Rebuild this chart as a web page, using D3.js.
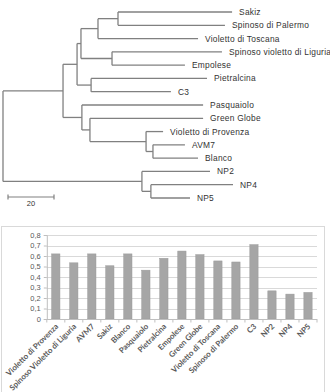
<!DOCTYPE html>
<html>
<head>
<meta charset="utf-8">
<script src="https://cdn.jsdelivr.net/npm/d3@7"></script>
<style>
  body { margin: 0; background: #fff; }
  svg { display: block; }
</style>
</head>
<body>
<div id="chart"></div>
<script>
// tree: [id, parent, branch length]
const treeNodes = [
  ['root', '', 0],
  ['A', 'root', 26.1],
  ['F', 'A', 6.1],
  ['D', 'F', 1.7],
  ['C', 'D', 7.4],
  ['SS', 'C', 8.7],
  ['Sakiz', 'SS', 49.6],
  ['Spinoso di Palermo', 'SS', 46.5],
  ['Violetto di Toscana', 'C', 43.5],
  ['E', 'D', 13.5],
  ['Spinoso violetto di Liguria', 'E', 47.8],
  ['Empolese', 'E', 31.7],
  ['G', 'F', 6.1],
  ['Pietralcina', 'G', 50.4],
  ['C3', 'G', 34.7],
  ['H', 'A', 8.2],
  ['Pasquaiolo', 'H', 52.7],
  ['I', 'H', 3.5],
  ['Green Globe', 'I', 49.2],
  ['J', 'I', 24.4],
  ['Violetto di Provenza', 'J', 7.4],
  ['K', 'J', 3.0],
  ['AVM7', 'K', 13.9],
  ['Blanco', 'K', 19.6],
  ['L', 'root', 60.4],
  ['NP2', 'L', 29.6],
  ['M', 'L', 3.9],
  ['NP4', 'M', 35.7],
  ['NP5', 'M', 17.0]
]
const scaleBarValue = 20

// bar chart
const categories = ['Violetto di Provenza', 'Spinoso Violetto di Liguria', 'AVM7', 'Sakiz', 'Blanco',
  'Pasquaiolo', 'Pietralcina', 'Empolese', 'Green Globe', 'Violetto di Toscana', 'Spinoso di Palermo',
  'C3', 'NP2', 'NP4', 'NP5']
const values = [0.62, 0.535, 0.62, 0.507, 0.62, 0.465, 0.578, 0.647, 0.613, 0.553, 0.543, 0.708, 0.268, 0.237, 0.253]
const yTicks = [0, 0.1, 0.2, 0.3, 0.4, 0.5, 0.6, 0.7, 0.8]

const width = 330, height = 392

const svg = d3.select('#chart').append('svg')
  .attr('width', width)
  .attr('height', height)

// ---- dendrogram ----
const root = d3.stratify()
  .id(d => d[0])
  .parentId(d => d[1] || null)(treeNodes)

root.eachBefore(n => { n.dist = n.parent ? n.parent.dist + n.data[2] : 0 })

const leaves = root.leaves()
const xTree = d3.scaleLinear().domain([0, 100]).range([3, 233])
const yLeaf = d3.scaleLinear().domain([0, leaves.length - 1]).range([12, 198])
leaves.forEach((l, i) => { l.py = yLeaf(i) })
root.eachAfter(n => {
  if (n.children) n.py = (n.children[0].py + n.children[n.children.length - 1].py) / 2
})

const tree = svg.append('g')
  .attr('fill', 'none')
  .attr('stroke', '#808080')
  .attr('stroke-width', 1.3)

// horizontal branches
tree.selectAll('line.h')
  .data(root.descendants().filter(n => n.parent))
  .enter()
  .append('line')
  .attr('x1', n => xTree(n.parent.dist))
  .attr('x2', n => xTree(n.dist))
  .attr('y1', n => n.py)
  .attr('y2', n => n.py)

// vertical connectors
tree.selectAll('line.v')
  .data(root.descendants().filter(n => n.children))
  .enter()
  .append('line')
  .attr('x1', n => xTree(n.dist))
  .attr('x2', n => xTree(n.dist))
  .attr('y1', n => n.children[0].py)
  .attr('y2', n => n.children[n.children.length - 1].py)

svg.append('g')
  .selectAll('text')
  .data(leaves)
  .enter()
  .append('text')
  .attr('x', n => xTree(n.dist) + 7)
  .attr('y', n => n.py)
  .attr('dy', '0.35em')
  .attr('font-family', 'Liberation Sans, Arial, sans-serif')
  .attr('font-size', 8.4)
  .attr('letter-spacing', 0.25)
  .attr('fill', '#333')
  .text(n => n.id)

// scale bar
const sb = svg.append('g').attr('stroke', '#808080').attr('stroke-width', 1.2)
const sbX0 = 8, sbY = 197
sb.append('line')
  .attr('x1', sbX0).attr('x2', sbX0 + xTree(scaleBarValue) - xTree(0))
  .attr('y1', sbY).attr('y2', sbY)
;[0, scaleBarValue].forEach(v => {
  sb.append('line')
    .attr('x1', sbX0 + xTree(v) - xTree(0)).attr('x2', sbX0 + xTree(v) - xTree(0))
    .attr('y1', sbY - 2.5).attr('y2', sbY + 2.5)
})
svg.append('text')
  .attr('x', sbX0 + (xTree(scaleBarValue) - xTree(0)) / 2)
  .attr('y', sbY + 9)
  .attr('text-anchor', 'middle')
  .attr('font-family', 'Liberation Sans, Arial, sans-serif')
  .attr('font-size', 7.5)
  .attr('fill', '#333')
  .text(scaleBarValue)

// ---- bar chart ----
svg.append('rect')
  .attr('x', 1.5).attr('y', 226.5)
  .attr('width', 323).attr('height', 180)
  .attr('fill', 'none')
  .attr('stroke', '#d9d9d9')

const x = d3.scaleBand()
  .domain(categories)
  .range([46.8, 317])
  .paddingInner(0.54)
  .paddingOuter(0.27)

const y = d3.scaleLinear()
  .domain([0, 0.8])
  .range([319, 235])

const fmt = d3.formatLocale({ decimal: ',', thousands: '.', grouping: [3], currency: ['', ''] }).format('.1f')

const grid = svg.append('g')
grid.selectAll('line')
  .data(yTicks.filter(t => t > 0))
  .enter()
  .append('line')
  .attr('x1', 46.8).attr('x2', 317)
  .attr('y1', d => Math.round(y(d)) + 0.5)
  .attr('y2', d => Math.round(y(d)) + 0.5)
  .attr('stroke', '#d9d9d9')

const yAxis = svg.append('g')
  .attr('transform', 'translate(46.8,0)')
  .call(d3.axisLeft(y).tickValues(yTicks).tickSize(3).tickFormat(d => d === 0 ? '0' : fmt(d)))
yAxis.select('.domain').attr('stroke', '#bfbfbf')
yAxis.selectAll('.tick line').attr('stroke', '#bfbfbf')
yAxis.selectAll('text')
  .attr('fill', '#595959')
  .attr('font-size', 7.5)
  .attr('font-family', 'Liberation Sans, Arial, sans-serif')
  .attr('x', -6)

svg.append('g')
  .selectAll('rect')
  .data(values)
  .enter()
  .append('rect')
  .attr('x', (d, i) => x(categories[i]))
  .attr('y', d => y(d))
  .attr('width', x.bandwidth())
  .attr('height', d => y(0) - y(d))
  .attr('fill', '#a6a6a6')
  .attr('stroke', '#9a9a9a')
  .attr('stroke-width', 0.5)

// x axis line with ticks at category boundaries
const xAxis = svg.append('g').attr('stroke', '#bfbfbf')
xAxis.append('line')
  .attr('x1', 46.8).attr('x2', 317)
  .attr('y1', y(0) + 0.5).attr('y2', y(0) + 0.5)
xAxis.selectAll('line.t')
  .data(d3.range(categories.length + 1))
  .enter()
  .append('line')
  .attr('x1', i => 46.8 + i * x.step())
  .attr('x2', i => 46.8 + i * x.step())
  .attr('y1', y(0)).attr('y2', y(0) + 3.5)

svg.append('g')
  .selectAll('text')
  .data(categories)
  .enter()
  .append('text')
  .attr('transform', d => `translate(${x(d) + x.bandwidth() / 2 + 3},${y(0) + 8}) rotate(-45)`)
  .attr('text-anchor', 'end')
  .attr('font-family', 'Lato, Liberation Sans, sans-serif')
  .attr('font-weight', 'bold')
  .attr('font-size', 7.8)
  .attr('fill', '#595959')
  .text(d => d)
</script>
</body>
</html>
